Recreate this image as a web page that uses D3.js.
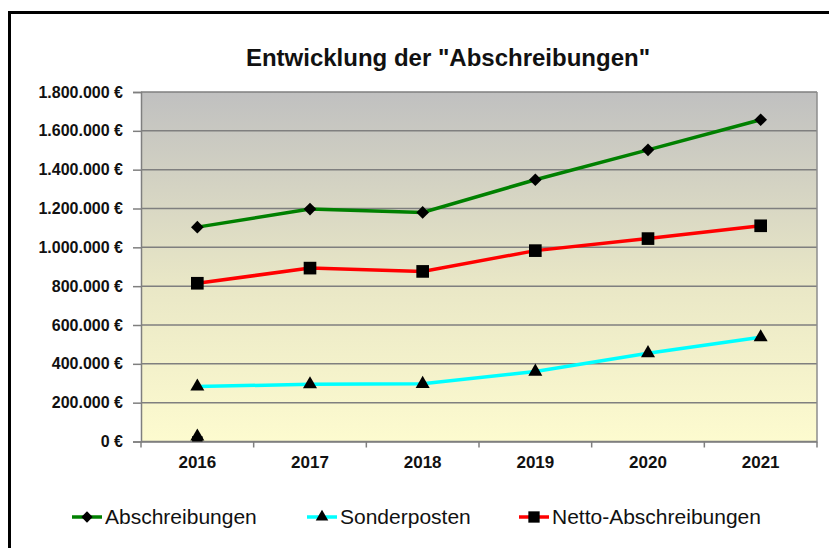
<!DOCTYPE html>
<html>
<head>
<meta charset="utf-8">
<script src="https://cdn.jsdelivr.net/npm/d3@7"></script>
<style>
  body { margin: 0; background: #fff; }
  svg text { font-family: "Liberation Sans", Arial, sans-serif; }
</style>
</head>
<body>
<div id="chart"></div>
<script>
// data
var jahre = ["2016", "2017", "2018", "2019", "2020", "2021"];
var abschreibungen = [1104000, 1197000, 1180000, 1348000, 1502000, 1657000];
var sonderposten = [283000, 295000, 297000, 360000, 455000, 537000];
var nettoAbschreibungen = [815000, 893000, 876000, 983000, 1045000, 1111000];
var yTicks = [0, 200000, 400000, 600000, 800000, 1000000, 1200000, 1400000, 1600000, 1800000];
// stray marker sitting on the zero line at 2016
var nullPunkte = [{ jahr: "2016", wert: 0 }];

var svgWidth = 829;
var svgHeight = 548;

var plot = { left: 141, right: 817, top: 92, bottom: 441.5 };

var svg = d3.select("#chart")
  .append("svg")
  .attr("width", svgWidth)
  .attr("height", svgHeight);

var defs = svg.append("defs");
var grad = defs.append("linearGradient")
  .attr("id", "bg")
  .attr("x1", 0).attr("y1", 0).attr("x2", 0).attr("y2", 1);
grad.append("stop").attr("offset", "0%").attr("stop-color", "#c0c0c0");
grad.append("stop").attr("offset", "55%").attr("stop-color", "#e9e7c6");
grad.append("stop").attr("offset", "100%").attr("stop-color", "#fdfbcf");

defs.append("clipPath").attr("id", "plotClip")
  .append("rect")
  .attr("x", plot.left).attr("y", plot.top)
  .attr("width", plot.right - plot.left)
  .attr("height", plot.bottom - plot.top);

// outer frame (runs off the right and bottom edge)
svg.append("rect")
  .attr("x", 9.5).attr("y", 12.5)
  .attr("width", 900).attr("height", 600)
  .attr("fill", "none")
  .attr("stroke", "#000")
  .attr("stroke-width", 3);

var x = d3.scaleBand().domain(jahre).range([plot.left, plot.right]);
var y = d3.scaleLinear().domain([0, 1800000]).range([plot.bottom, plot.top]);

var locale = d3.formatLocale({ decimal: ",", thousands: ".", grouping: [3], currency: ["", " €"] });
var fmt = locale.format("$,.0f");

// plot background
svg.append("rect")
  .attr("x", plot.left).attr("y", plot.top)
  .attr("width", plot.right - plot.left)
  .attr("height", plot.bottom - plot.top)
  .attr("fill", "url(#bg)");

// gridlines
svg.append("g")
  .selectAll("line")
  .data(yTicks)
  .enter()
  .append("line")
  .attr("x1", plot.left).attr("x2", plot.right)
  .attr("y1", function(d) { return y(d); })
  .attr("y2", function(d) { return y(d); })
  .attr("stroke", "#7f7f7f")
  .attr("stroke-width", 1.5);

// right edge of plot area
svg.append("line")
  .attr("x1", plot.right).attr("x2", plot.right)
  .attr("y1", plot.top).attr("y2", plot.bottom)
  .attr("stroke", "#8c8c8c").attr("stroke-width", 1.5);

// y axis
var leftAxis = d3.axisLeft(y).tickValues(yTicks).tickFormat(fmt).tickSize(8).tickPadding(10);
var yAxisG = svg.append("g")
  .attr("transform", "translate(" + plot.left + ",0)")
  .call(leftAxis);
yAxisG.select(".domain").attr("stroke", "#7f7f7f").attr("stroke-width", 1.5);
yAxisG.selectAll(".tick line").attr("stroke", "#7f7f7f").attr("stroke-width", 1.5);
yAxisG.selectAll(".tick text")
  .attr("fill", "#111")
  .style("font-size", "16px")
  .style("font-weight", "bold");

// x axis: ticks sit between the categories
var bottomAxis = d3.axisBottom(x).tickSize(0).tickPadding(14);
var xAxisG = svg.append("g")
  .attr("transform", "translate(0," + plot.bottom + ")")
  .call(bottomAxis);
xAxisG.select(".domain").attr("stroke", "#7f7f7f").attr("stroke-width", 1.5);
xAxisG.selectAll(".tick text")
  .attr("fill", "#111")
  .style("font-size", "17px")
  .style("font-weight", "bold");
xAxisG.selectAll(".sep")
  .data(jahre.concat(["end"]))
  .enter()
  .append("line")
  .attr("class", "sep")
  .attr("x1", function(d, i) { return i < jahre.length ? x(d) : x(jahre[jahre.length - 1]) + x.bandwidth(); })
  .attr("x2", function(d, i) { return i < jahre.length ? x(d) : x(jahre[jahre.length - 1]) + x.bandwidth(); })
  .attr("y1", 0).attr("y2", 6)
  .attr("stroke", "#7f7f7f").attr("stroke-width", 1.5);

// title
svg.append("text")
  .attr("x", 448).attr("y", 66)
  .attr("text-anchor", "middle")
  .style("font-size", "24px")
  .style("font-weight", "bold")
  .attr("fill", "#111")
  .text('Entwicklung der "Abschreibungen"');

var cx = function(j) { return x(j) + x.bandwidth() / 2; };

// diamond = square turned by 45 degrees
var reihen = [
  { name: "Abschreibungen", werte: abschreibungen, farbe: "#008000", marker: d3.symbolSquare, msize: 80, rot: 45 },
  { name: "Sonderposten", werte: sonderposten, farbe: "#00ffff", marker: d3.symbolTriangle, msize: 85, rot: 0 },
  { name: "Netto-Abschreibungen", werte: nettoAbschreibungen, farbe: "#ff0000", marker: d3.symbolSquare, msize: 160, rot: 0 }
];

var line = d3.line()
  .x(function(d, i) { return cx(jahre[i]); })
  .y(function(d) { return y(d); });

var plotG = svg.append("g");

reihen.forEach(function(r) {
  plotG.append("path")
    .datum(r.werte)
    .attr("d", line)
    .attr("fill", "none")
    .attr("stroke", r.farbe)
    .attr("stroke-width", 3.5);
});

reihen.forEach(function(r) {
  plotG.selectAll(null)
    .data(r.werte)
    .enter()
    .append("path")
    .attr("d", d3.symbol().type(r.marker).size(r.msize))
    .attr("transform", function(d, i) {
      return "translate(" + cx(jahre[i]) + "," + y(d) + ") rotate(" + r.rot + ")";
    })
    .attr("fill", "#000");
});

// zero marker, clipped by the plot area
var nullG = svg.append("g").attr("clip-path", "url(#plotClip)");
nullG.selectAll(null)
  .data(nullPunkte)
  .enter()
  .append("path")
  .attr("d", d3.symbol().type(d3.symbolSquare).size(110))
  .attr("transform", function(d) { return "translate(" + cx(d.jahr) + "," + y(d.wert) + ")"; })
  .attr("fill", "#000");
nullG.selectAll(null)
  .data(nullPunkte)
  .enter()
  .append("path")
  .attr("d", d3.symbol().type(d3.symbolTriangle).size(85))
  .attr("transform", function(d) { return "translate(" + cx(d.jahr) + "," + (y(d.wert) - 5) + ")"; })
  .attr("fill", "#000");

// legend
var legendX = [72, 307, 519];
var legend = svg.append("g")
  .selectAll("g")
  .data(reihen)
  .enter()
  .append("g")
  .attr("transform", function(d, i) { return "translate(" + legendX[i] + ",517)"; });

legend.append("line")
  .attr("x1", 0).attr("x2", 30)
  .attr("stroke", function(d) { return d.farbe; })
  .attr("stroke-width", 3.5);
legend.append("path")
  .attr("d", function(d) { return d3.symbol().type(d.marker).size(d.msize * 0.8)(); })
  .attr("transform", function(d) { return "translate(15,0) rotate(" + d.rot + ")"; })
  .attr("fill", "#000");
legend.append("text")
  .attr("x", 33)
  .attr("dy", "0.35em")
  .style("font-size", "21px")
  .attr("fill", "#111")
  .text(function(d) { return d.name; });
</script>
</body>
</html>
